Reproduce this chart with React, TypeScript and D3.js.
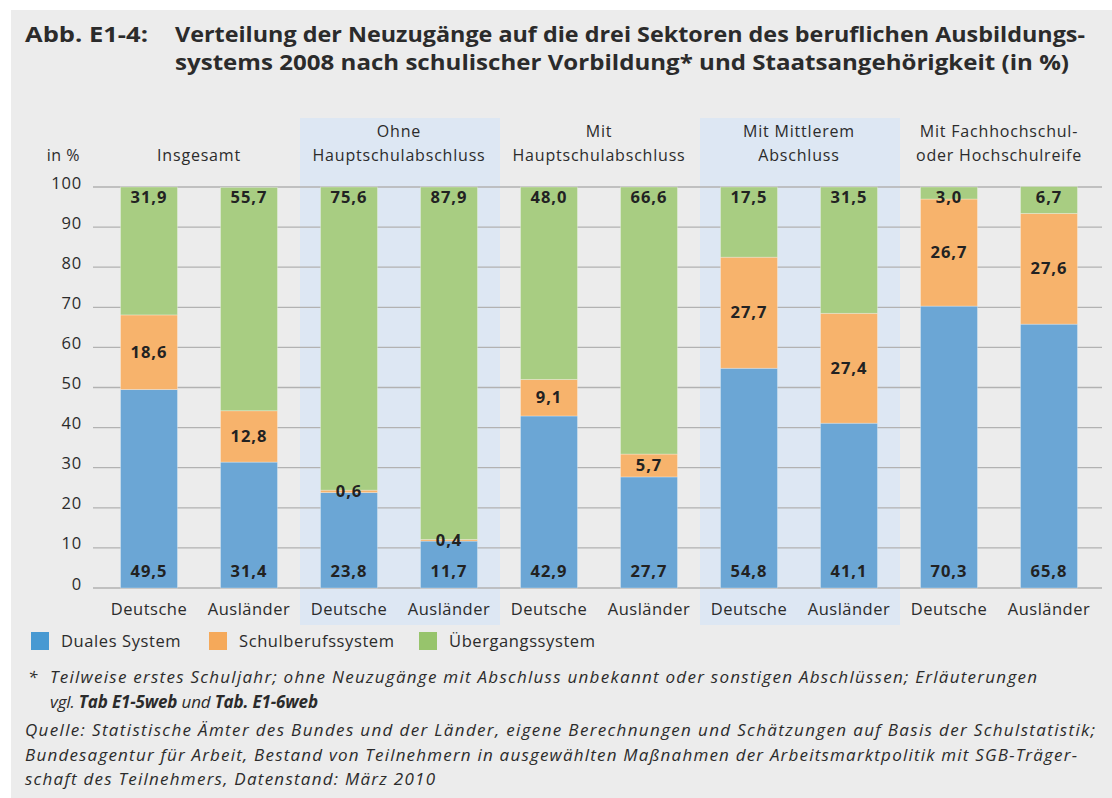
import React from 'react';
import * as d3 from 'd3';

const groups = [
  ['Insgesamt'],
  ['Ohne', 'Hauptschulabschluss'],
  ['Mit', 'Hauptschulabschluss'],
  ['Mit Mittlerem', 'Abschluss'],
  ['Mit Fachhochschul-', 'oder Hochschulreife'],
];
const nationalities = ['Deutsche', 'Ausländer'];
const series = ['Duales System', 'Schulberufssystem', 'Übergangssystem'];

// per bar: [Duales, Schulberuf, Übergang], order = group x nationality
const duales = [49.5, 31.4, 23.8, 11.7, 42.9, 27.7, 54.8, 41.1, 70.3, 65.8];
const schulberuf = [18.6, 12.8, 0.6, 0.4, 9.1, 5.7, 27.7, 27.4, 26.7, 27.6];
const uebergang = [31.9, 55.7, 75.6, 87.9, 48.0, 66.6, 17.5, 31.5, 3.0, 6.7];

const yTicks = [0, 10, 20, 30, 40, 50, 60, 70, 80, 90, 100];

const barColors = ['#6ba6d5', '#f7b36c', '#a8cd82'];
const legendColors = ['#4799d2', '#f5a95a', '#97c46c'];
const shadedGroups = [1, 3];

const W = 1112;
const H = 798;
const FONT = '"Open Sans", "Noto Sans", sans-serif';
const TXT = '#2b2b2b';

const fmt = (v: number) => v.toFixed(1).replace('.', ',');

export default function App() {
  const bars = groups.flatMap((g, gi) =>
    nationalities.map((n, ni) => {
      const i = gi * 2 + ni;
      return { key: `${gi}-${ni}`, group: gi, label: n, values: [duales[i], schulberuf[i], uebergang[i]] };
    })
  );

  const x = d3.scaleBand<string>()
    .domain(bars.map(b => b.key))
    .range([99, 1099])
    .paddingInner(0.43)
    .paddingOuter(0.215);
  const y = d3.scaleLinear().domain([0, 100]).range([588, 187]);

  const step = x.step();
  const groupLeft = (gi: number) => (x(`${gi}-0`) as number) - step * 0.43 / 2;
  const groupCenter = (gi: number) => groupLeft(gi) + step;

  const stack = d3.stack<any>().keys(['0', '1', '2']).value((d, k) => d.values[+k]);
  const stacked = stack(bars as any);

  return (
    <div style={{ position: 'absolute', left: 0, top: 0 }}>
      <svg width={W} height={H} style={{ display: 'block', fontFamily: FONT }}>
        <rect x={0} y={0} width={W} height={H} fill="#ffffff" />
        <rect x={11} y={10} width={W - 11} height={H - 10} fill="#ececec" />

        {/* title */}
        <g fill={TXT} fontWeight={700} fontSize={21}>
          <text x={25} y={42} textLength={123} lengthAdjust="spacingAndGlyphs">Abb. E1-4:</text>
          <text x={175} y={42} textLength={910} lengthAdjust="spacingAndGlyphs">
            Verteilung der Neuzugänge auf die drei Sektoren des beruflichen Ausbildungs-
          </text>
          <text x={175} y={70} textLength={894} lengthAdjust="spacingAndGlyphs">
            systems 2008 nach schulischer Vorbildung* und Staatsangehörigkeit (in %)
          </text>
        </g>

        {/* shaded groups */}
        {shadedGroups.map(gi => (
          <rect key={gi} x={groupLeft(gi) + 1} y={118} width={2 * step} height={625 - 118} fill="#dde7f3" />
        ))}

        {/* group headers */}
        <g fill={TXT} fontSize={16} letterSpacing={0.8} textAnchor="middle">
          {groups.map((lines, gi) =>
            lines.map((l, li) => (
              <text key={`${gi}-${li}`} x={groupCenter(gi)} y={161 - (lines.length - 1 - li) * 24}>{l}</text>
            ))
          )}
        </g>
        <text x={80} y={161} fill={TXT} fontSize={16} letterSpacing={0.5} textAnchor="end">in %</text>

        {/* grid + y ticks */}
        <g>
          {yTicks.map(t => (
            <g key={t}>
              <line x1={93} x2={1102} y1={y(t)} y2={y(t)} stroke="#b2b2b2" strokeWidth={1.3} />
              <text x={82} y={y(t) + 1.5} fill={TXT} fontSize={16.5} letterSpacing={0.8} textAnchor="end">{t}</text>
            </g>
          ))}
        </g>

        {/* bars */}
        {stacked.map((layer, si) => (
          <g key={si} fill={barColors[si]}>
            {layer.map((d, bi) => (
              <rect key={bi} x={x(bars[bi].key)} y={y(d[1])} width={x.bandwidth()} height={y(d[0]) - y(d[1])}
                stroke="rgba(255,255,255,0.35)" strokeWidth={0.8} />
            ))}
          </g>
        ))}

        {/* value labels */}
        <g fill="#222" fontWeight={700} fontSize={16.5} letterSpacing={1} textAnchor="middle">
          {stacked.map((layer, si) =>
            layer.map((d, bi) => {
              const cx = (x(bars[bi].key) as number) + x.bandwidth() / 2;
              let ly: number;
              if (si === 0) ly = y(0) - 11;
              else if (si === 2) ly = y(100) + 16;
              else ly = (y(d[0]) + y(d[1])) / 2 + 5.5;
              return <text key={`${si}-${bi}`} x={cx} y={ly}>{fmt(bars[bi].values[si])}</text>;
            })
          )}
        </g>

        {/* x labels */}
        <g fill={TXT} fontSize={16.5} letterSpacing={0.5} textAnchor="middle">
          {bars.map(b => (
            <text key={b.key} x={(x(b.key) as number) + x.bandwidth() / 2} y={615}>{b.label}</text>
          ))}
        </g>

        {/* legend */}
        <g fontSize={16.5} letterSpacing={0.6} fill={TXT}>
          {series.map((s, i) => {
            const lx = [31, 209, 419][i];
            return (
              <g key={s}>
                <rect x={lx} y={632} width={18} height={18} fill={legendColors[i]} />
                <text x={lx + 30} y={647}>{s}</text>
              </g>
            );
          })}
        </g>

        {/* footnotes */}
        <g fill={TXT} fontSize={17} fontStyle="italic">
          <text x={28} y={683}>*</text>
          <text x={50} y={683} textLength={987} lengthAdjust="spacing">
            Teilweise erstes Schuljahr; ohne Neuzugänge mit Abschluss unbekannt oder sonstigen Abschlüssen; Erläuterungen
          </text>
          <text x={50} y={708} textLength={268} lengthAdjust="spacing">
            vgl. <tspan fontWeight={700}>Tab E1-5web</tspan> und <tspan fontWeight={700}>Tab. E1-6web</tspan>
          </text>
          <text x={25} y={736} textLength={1070} lengthAdjust="spacing">
            Quelle: Statistische Ämter des Bundes und der Länder, eigene Berechnungen und Schätzungen auf Basis der Schulstatistik;
          </text>
          <text x={25} y={761} textLength={1052} lengthAdjust="spacing">
            Bundesagentur für Arbeit, Bestand von Teilnehmern in ausgewählten Maßnahmen der Arbeitsmarktpolitik mit SGB-Träger-
          </text>
          <text x={25} y={785} textLength={410} lengthAdjust="spacing">schaft des Teilnehmers, Datenstand: März 2010</text>
        </g>
      </svg>
    </div>
  );
}
